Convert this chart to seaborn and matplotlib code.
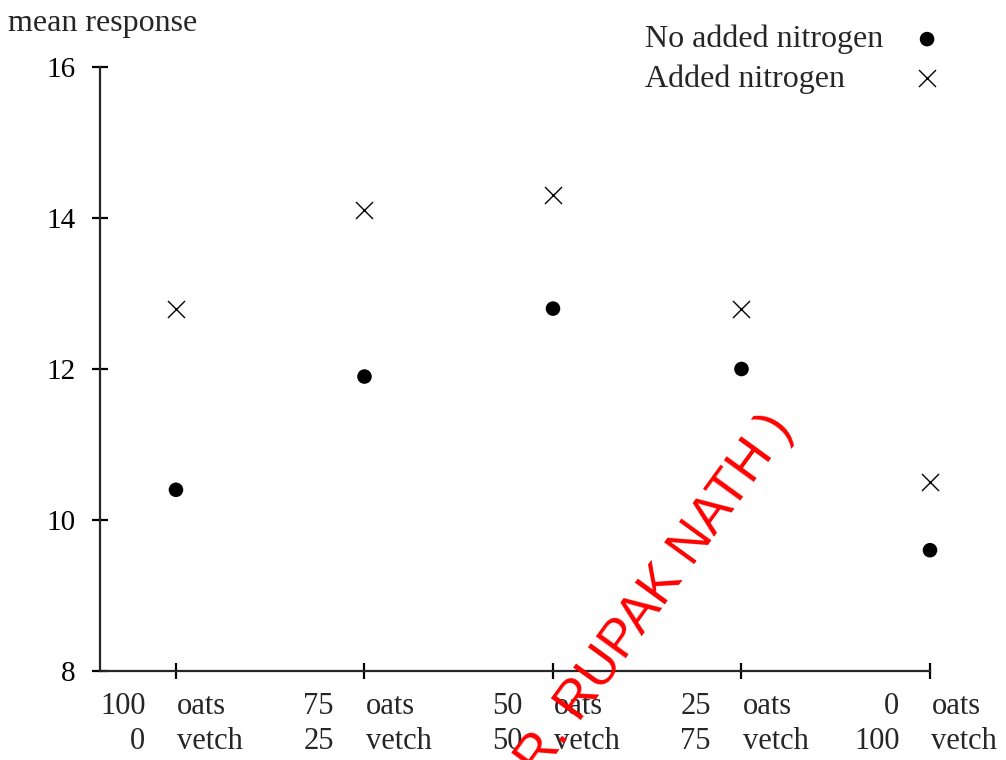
import numpy as np
import pandas as pd
import seaborn as sns
import matplotlib.pyplot as plt

# oats/vetch mixture (percent) and mean responses
oats = [100, 75, 50, 25, 0]
vetch = [0, 25, 50, 75, 100]
no_nitrogen = [10.4, 11.9, 12.8, 12.0, 9.6]
added_nitrogen = [12.8, 14.1, 14.3, 12.8, 10.5]

mix = ['{}/{}'.format(o, v) for o, v in zip(oats, vetch)]
df = pd.DataFrame({'mix': mix, 'none': no_nitrogen, 'added': added_nitrogen})

sns.set_style('ticks')
plt.rcParams['font.family'] = ['Liberation Serif', 'DejaVu Serif']
plt.rcParams['font.size'] = 22

fig = plt.figure(figsize=(10.06, 7.6), dpi=100)
ax = fig.add_axes([100 / 1006, 1 - 671 / 760, 830 / 1006, 604 / 760])

sns.scatterplot(data=df, x='mix', y='none', marker='o', s=110, color='black',
                edgecolor='none', label='No added nitrogen', ax=ax, clip_on=False)
sns.scatterplot(data=df, x='mix', y='added', marker='x', s=150, color='black',
                linewidth=1.0, label='Added nitrogen', ax=ax, clip_on=False)

ax.set_xlim(-0.403, len(mix) - 1)
ax.set_ylim(8, 16)
ax.set_yticks([8, 10, 12, 14, 16])
ax.set_xlabel('')
ax.set_ylabel('')
sns.despine(ax=ax)
for s in ['left', 'bottom']:
    ax.spines[s].set_linewidth(1.6)
ax.tick_params(axis='both', direction='inout', length=11, width=1.6,
               colors='black')
ax.tick_params(axis='y', pad=12, labelsize=21)
ax.set_xticks(range(len(mix)))
ax.set_xticklabels([''] * len(mix))

# two-line tick labels: number left of the tick, word just after it
for i, (o, v) in enumerate(zip(oats, vetch)):
    for row, (num, word) in enumerate([(o, 'oats'), (v, 'vetch')]):
        ax.annotate(str(num), xy=(i, 0), xycoords=('data', 'axes fraction'),
                    xytext=(-22, -25.5 - row * 25.5), textcoords='offset points',
                    ha='right', va='center', fontsize=22)
        ax.annotate(word, xy=(i, 0), xycoords=('data', 'axes fraction'),
                    xytext=(1, -25.5 - row * 25.5), textcoords='offset points',
                    ha='left', va='center', fontsize=22)

fig.text(8 / 1006, 1 - 23 / 760, 'mean response', ha='left', va='center',
         fontsize=23)

leg = ax.legend(loc='upper right', bbox_to_anchor=(959 / 1006, 1 - 25 / 760),
                bbox_transform=fig.transFigure, frameon=False,
                markerfirst=False, handletextpad=0.37, labelspacing=0.3,
                fontsize=23, borderaxespad=0, borderpad=0)

# left-align the legend labels while keeping the markers in one column
fig.canvas.draw()
r = fig.canvas.get_renderer()
widths = [t.get_window_extent(r).width for t in leg.get_texts()]
col = leg._legend_handle_box.get_children()[0]
col.align = 'left'
for rowbox, w in zip(col.get_children(), widths):
    rowbox.sep += (max(widths) - w) / r.points_to_pixels(1.0)

fig.text(634 / 1006, 1 - 623 / 760, '( DR. RUPAK NATH )', color='red',
         rotation=54, ha='center', va='center', fontsize=38,
         family='Liberation Sans', rotation_mode='anchor')

fig.savefig('out.png', dpi=100)
